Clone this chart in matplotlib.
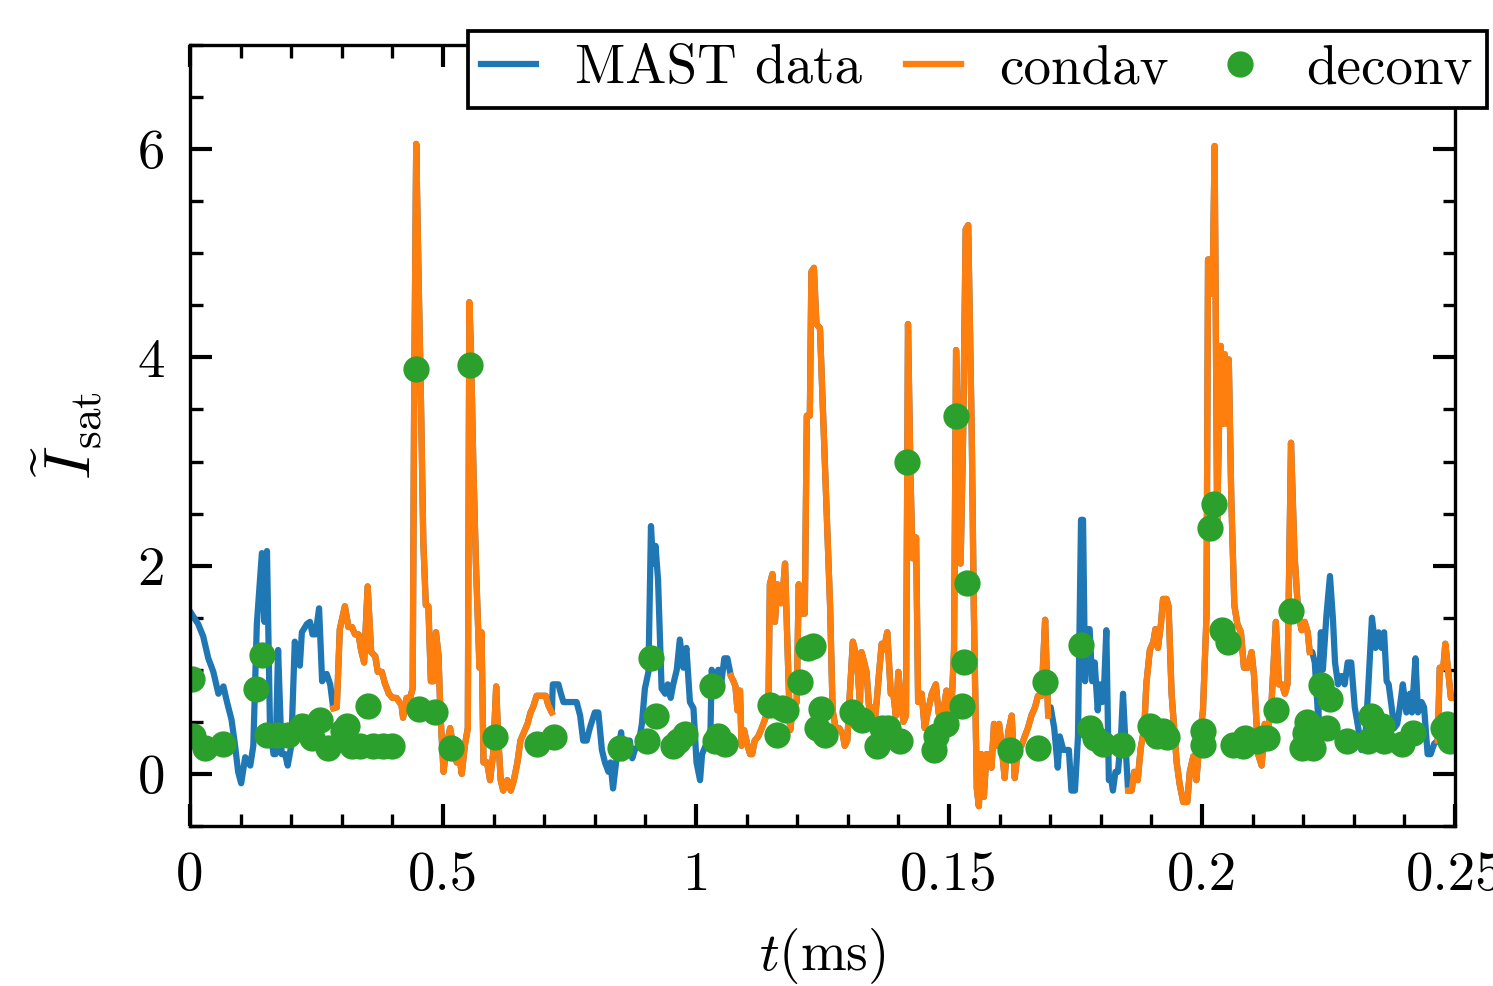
import numpy as np
import matplotlib
matplotlib.use("Agg")
import matplotlib.pyplot as plt

plt.rcParams['font.family'] = 'cmr10'
plt.rcParams['mathtext.fontset'] = 'cm'
plt.rcParams['axes.unicode_minus'] = False
plt.rcParams['font.size'] = 13.2

# time in microseconds, normalised ion saturation current
t_us = [0.0, 1.6, 2.6, 3.6, 4.6, 5.6, 6.6, 7.3, 8.2, 8.9, 9.5, 10.1, 10.9, 11.9, 12.5,
        13.2, 14.2, 14.7, 15.2, 15.8, 16.5, 16.9, 17.4, 18.1, 18.8, 19.3, 20.0, 20.7,
        21.7, 22.1, 23.1, 23.7, 24.2, 24.8, 25.5, 26.1, 27.0, 27.7, 28.3,
        29.0, 29.6, 30.6, 31.3, 32.0, 32.6, 33.3, 33.8, 34.4, 35.1, 35.8, 36.6, 37.1,
        37.9, 38.5, 39.3, 40.0, 40.8, 41.8, 42.1, 42.8, 43.5, 44.0, 44.3, 44.7, 45.1,
        45.6, 46.1, 46.6, 47.1, 47.6, 48.1, 48.6, 49.1, 49.5, 50.1, 50.7, 51.4, 52.0,
        52.7, 53.2, 53.7, 54.3, 54.9, 55.2, 55.5, 56.0, 56.5, 57.2, 57.6, 58.0, 58.7,
        59.3, 59.9, 60.5, 60.9, 61.4, 61.9, 62.7, 63.4, 64.0, 64.7, 65.3, 66.0, 66.7,
        67.3, 67.8, 68.5, 69.5, 70.3, 70.8, 71.5,
        71.7, 72.8, 73.3, 73.8, 75.4, 76.4, 77.1, 77.7, 78.4, 78.9, 79.4, 80.0, 80.7,
        81.4, 82.0, 82.7, 83.1, 83.6, 84.2, 84.5, 85.2, 85.6, 86.3, 86.9, 87.4, 87.9,
        88.6, 89.3, 89.9, 90.6, 91.1, 91.5, 92.0, 92.5, 93.2, 93.9, 94.4, 95.0, 95.5,
        96.2, 96.8, 97.5, 98.1, 98.8, 99.5, 100.1, 100.8, 101.2, 101.9, 102.8, 103.1,
        103.7, 104.4, 104.9, 105.6, 106.2, 106.9,
        107.4, 107.8, 108.2, 108.7, 109.0, 109.5, 110.2, 110.7, 111.1, 111.6, 112.3,
        113.0, 113.6, 114.3, 114.6, 115.1, 115.6, 116.1, 116.6, 117.0, 117.6, 118.1,
        118.6, 119.2, 119.9, 120.3, 120.9, 121.5, 121.9, 122.5, 122.8, 123.3, 123.8,
        124.5, 125.1, 125.8, 126.5, 127.0, 127.6, 128.3, 129.0, 129.4, 129.9, 130.4,
        131.0, 131.4, 131.9, 132.4, 132.7, 133.2, 133.7, 134.2, 134.7, 135.2, 135.7,
        136.2, 136.7, 137.1, 137.8, 138.5, 139.0, 139.5, 140.0, 140.4, 141.0, 141.5,
        141.9, 142.4, 142.8, 143.5, 143.9, 144.6, 145.2, 145.9, 146.6, 147.4, 147.9,
        148.5, 149.0, 149.5, 150.0, 150.5, 151.0, 151.4, 151.8, 152.3, 152.8, 153.3,
        153.8, 154.5, 154.9, 155.5, 155.9, 156.4, 156.9, 157.4, 157.9, 158.4, 158.9,
        159.4, 159.9, 160.4, 161.0, 161.7, 162.4, 163.0, 163.7, 164.3, 165.0, 165.6,
        166.3, 167.0, 167.6, 168.3, 169.0, 169.6,
        170.1, 170.8, 171.5, 171.9, 172.6, 173.7, 174.2, 174.9, 175.5, 176.1, 176.5,
        176.9, 177.4, 177.8, 178.3, 178.8, 179.4, 179.8, 180.3, 180.7, 181.1, 181.6,
        182.1, 182.4, 182.9, 183.4, 184.0, 184.4, 184.9, 185.4,
        186.1, 186.6, 187.3, 187.9, 188.6, 189.0, 189.7, 190.4, 190.8, 191.3, 191.9,
        192.3, 193.0, 193.4, 194.0, 194.5, 195.0, 195.6, 196.3, 197.1, 197.6, 198.3,
        198.9, 199.6, 200.2, 200.9, 201.2, 201.7, 202.1, 202.5, 203.0, 203.7, 204.1,
        204.5, 205.0, 205.3, 205.8, 206.4, 207.0, 207.7, 208.3, 209.1, 209.8, 210.3,
        211.1, 211.8, 212.4, 213.1, 213.7, 214.6, 215.2, 215.8, 216.4, 216.9, 217.6,
        218.3, 219.0, 219.7, 220.3, 220.9, 221.3,
        221.8, 222.3, 223.0, 223.5, 223.9, 224.6, 225.3, 225.9, 226.3, 226.9, 227.6,
        228.2, 228.8, 229.5, 230.2, 230.9, 231.5, 232.2, 232.8, 233.6, 234.3, 234.9,
        235.5, 236.0, 236.5, 236.9, 237.5, 238.0, 238.6, 239.1, 239.7, 240.4, 241.1,
        241.5, 242.2, 242.7, 243.4, 243.9, 244.6, 245.2, 245.9, 246.6,
        247.0, 247.7, 248.1, 248.6, 249.2, 250.0]

isat = [1.56, 1.44, 1.32, 1.11, 0.98, 0.77, 0.84, 0.69, 0.52, 0.27, 0.02, -0.09, 0.16, 0.08, 0.27,
        1.44, 2.12, 1.46, 2.14, 0.44, 0.19, 0.19, 1.19, 0.19, 0.19, 0.08, 0.27, 1.27,
        1.04, 1.36, 1.44, 1.46, 1.34, 1.34, 1.59, 0.89, 0.96, 0.86, 0.63,
        0.64, 1.39, 1.61, 1.41, 1.41, 1.34, 1.34, 1.19, 1.07, 1.80, 1.17, 1.13, 0.98,
        0.98, 0.87, 0.77, 0.73, 0.73, 0.66, 0.54, 0.73, 0.73, 0.82, 3.69, 6.05, 4.94,
        3.69, 2.23, 1.62, 1.61, 0.89, 0.89, 1.36, 1.14, 0.56, 0.02, 0.27, 0.44, 0.27,
        0.11, 0.19, 0.00, 0.27, 0.44, 4.53, 4.11, 2.94, 2.02, 1.02, 1.36, 0.11, 0.11,
        -0.06, 0.19, 0.84, 0.36, -0.06, -0.16, -0.06, -0.16, -0.06, 0.11, 0.32, 0.40, 0.48,
        0.59, 0.64, 0.75, 0.75, 0.75, 0.66, 0.59,
        0.86, 0.86, 0.77, 0.69, 0.69, 0.69, 0.56, 0.32, 0.32, 0.42, 0.50, 0.59, 0.59,
        0.23, 0.11, 0.02, 0.11, -0.14, 0.11, 0.19, 0.40, 0.15, 0.32, 0.32, 0.15, 0.23,
        0.27, 0.48, 0.82, 0.98, 2.38, 2.02, 2.19, 1.86, 0.82, 0.77, 0.86, 0.73, 0.86,
        1.00, 1.29, 1.02, 1.21, 0.69, 0.63, 0.11, -0.06, 0.19, 0.27, 0.27, 1.00,
        0.89, 1.00, 0.84, 1.11, 1.11, 0.94,
        0.89, 0.84, 0.61, 0.80, 0.27, 0.42, 0.27, 0.19, 0.19, 0.32, 0.36,
        0.44, 0.52, 0.61, 1.82, 1.92, 1.46, 1.82, 1.64, 1.64, 2.02, 1.19,
        0.42, 0.64, 0.69, 1.82, 1.54, 1.54, 3.44, 3.44, 4.82, 4.86, 4.32,
        4.28, 3.48, 2.52, 1.61, 0.61, 0.44, 0.44, 0.38, 0.27, 0.32, 0.77,
        1.27, 1.19, 1.02, 0.69, 1.17, 1.08, 0.98, 0.64, 0.64, 0.44, 0.69,
        0.98, 1.25, 1.19, 1.36, 0.77, 0.77, 0.56, 0.98, 0.77, 0.50, 0.56,
        4.32, 2.85, 2.07, 2.27, 0.69, 0.77, 0.44, 0.61, 0.77, 0.86, 0.61,
        0.42, 0.64, 0.80, 0.44, 0.64, 1.19, 4.07, 3.27, 2.02, 3.27, 5.23,
        5.27, 3.27, 1.61, -0.14, -0.31, 0.19, -0.22, 0.19, 0.19, 0.06, 0.48,
        0.27, 0.48, 0.27, -0.04, 0.40, 0.56, -0.04, 0.27, 0.27, 0.36, 0.44,
        0.56, 0.64, 0.75, 0.75, 1.48, 0.56,
        0.64, 0.44, 0.06, 0.36, 0.23, 0.23, -0.16, -0.16, 0.36, 2.44, 2.44,
        0.89, 1.39, 1.39, 0.89, 1.07, 0.61, 0.86, 0.69, 0.89, 1.38, -0.06,
        -0.06, -0.16, 0.02, 0.02, 0.36, 0.77, 0.27, -0.16,
        -0.16, 0.02, -0.06, 0.25, 0.44, 0.86, 1.19, 1.27, 1.39, 1.21, 1.44,
        1.68, 1.68, 1.61, 0.77, 0.44, 0.11, -0.10, -0.27, -0.27, 0.02, 0.17,
        -0.06, 0.36, 0.61, 1.52, 4.94, 4.94, 4.61, 6.03, 2.44, 4.11, 3.36,
        4.03, 3.36, 3.98, 2.64, 1.62, 1.44, 1.36, 1.02, 1.02, 1.17, 0.94,
        0.19, 0.08, 0.48, 0.44, 0.64, 1.46, 0.86, 0.86, 0.77, 0.86, 3.18,
        2.10, 1.56, 1.38, 1.46, 1.36, 1.17,
        1.17, 1.07, 0.52, 1.36, 1.00, 1.52, 1.90, 1.48, 1.07, 0.86, 0.94,
        0.86, 1.07, 1.07, 0.64, 0.44, 0.23, 0.27, 0.77, 1.50, 1.21, 1.36,
        1.21, 1.36, 0.89, 0.86, 0.64, 0.44, 0.48, 0.64, 0.86, 0.59, 0.77,
        0.59, 1.11, 0.59, 0.69, 0.64, 0.19, 0.19, 0.29, 0.32,
        1.02, 1.02, 1.25, 1.02, 0.73, 0.73]

# conditional-average windows (start, end) in microseconds
condav_start = [28.3, 106.9, 185.4, 246.6]
condav_end = [71.5, 169.6, 221.3, 250.0]

# deconvolution pulse estimates
deconv_t_us = [0.4, 0.6, 3.0, 6.5, 13.0, 14.2, 15.2, 17.2, 19.4, 22.1, 24.1, 25.7, 27.3,
               30.2, 31.0, 32.0, 33.6, 35.2, 36.2, 38.1, 39.9, 44.7, 45.3, 48.4, 51.6,
               55.3, 60.3, 68.6, 71.9, 85.0, 90.3, 91.1, 92.1, 95.4, 96.4, 97.8, 103.1,
               103.7, 104.3, 105.7, 114.6, 116.0, 117.0, 117.8, 120.5, 122.1, 123.1,
               123.9, 124.7, 125.5, 130.8, 132.8, 135.8, 136.7, 137.9, 140.3, 141.7,
               147.0, 147.4, 149.4, 151.4, 152.5, 152.9, 153.5, 162.0, 167.6, 169.0,
               176.1, 177.8, 178.8, 180.4, 184.2, 189.7, 191.1, 192.3, 193.1, 200.2,
               200.2, 201.6, 202.3, 203.9, 205.1, 206.1, 208.1, 208.5, 210.8, 212.0,
               212.8, 214.6, 217.6, 219.7, 220.3, 220.7, 221.9, 223.5, 225.3, 224.7,
               228.6, 232.8, 233.4, 235.5, 235.9, 239.5, 241.7, 247.6, 248.4, 249.0]
deconv_val = [0.91, 0.36, 0.25, 0.29, 0.82, 1.14, 0.37, 0.37, 0.37, 0.46, 0.34, 0.52, 0.25,
              0.41, 0.46, 0.27, 0.27, 0.65, 0.27, 0.27, 0.27, 3.89, 0.62, 0.59, 0.25,
              3.93, 0.35, 0.29, 0.35, 0.25, 0.32, 1.11, 0.56, 0.27, 0.32, 0.38, 0.84,
              0.32, 0.36, 0.29, 0.66, 0.37, 0.63, 0.61, 0.88, 1.21, 1.23,
              0.44, 0.62, 0.37, 0.59, 0.52, 0.27, 0.44, 0.44, 0.32, 3.00,
              0.23, 0.36, 0.48, 3.44, 0.65, 1.07, 1.83, 0.23, 0.25, 0.88,
              1.24, 0.44, 0.34, 0.29, 0.28, 0.46, 0.36, 0.41, 0.35, 0.41,
              0.28, 2.36, 2.59, 1.38, 1.27, 0.28, 0.27, 0.34, 0.32, 0.34,
              0.34, 0.61, 1.56, 0.25, 0.39, 0.50, 0.25, 0.85, 0.72, 0.44,
              0.32, 0.32, 0.56, 0.46, 0.32, 0.29, 0.39, 0.44, 0.48, 0.32]

xtick_pos = [0, 0.05, 0.1, 0.15, 0.2, 0.25]
xtick_labels = ['0', '0.5', '1', '0.15', '0.2', '0.25']
ytick_pos = [0, 2, 4, 6]

t = np.array(t_us) / 1000.0
y = np.array(isat)
mask = np.zeros(len(t), dtype=bool)
for s, e in zip(condav_start, condav_end):
    mask |= (np.array(t_us) >= s) & (np.array(t_us) <= e)
y_condav = np.where(mask, y, np.nan)

fig = plt.figure(figsize=(1493 / 300, 986 / 300), dpi=300)
ax = fig.add_axes([0.1273, 0.1623, 0.8472, 0.7921])

ax.plot(t, y, color='#1f77b4', lw=1.5, label='MAST data')
ax.plot(t, y_condav, color='#ff7f0e', lw=1.5, label='condav')
ax.plot(np.array(deconv_t_us) / 1000.0, deconv_val, 'o', color='#2ca02c', ms=5.3,
        label='deconv')

ax.set_xlim(0, 0.25)
ax.set_ylim(-0.5, 7)
ax.set_xticks(xtick_pos)
ax.set_xticklabels(xtick_labels)
ax.set_xticks(np.arange(0, 0.2501, 0.01), minor=True)
ax.set_yticks(ytick_pos)
ax.set_yticklabels([str(v) for v in ytick_pos])
ax.set_yticks(np.arange(-0.5, 7.01, 0.5), minor=True)
ax.tick_params(which='both', direction='in', top=True, right=True)
ax.tick_params(which='major', length=5.3, width=1.0)
ax.tick_params(which='minor', length=3.0, width=0.8)
ax.tick_params(axis='x', which='major', pad=6)
ax.tick_params(axis='y', which='major', pad=6)
for sp in ax.spines.values():
    sp.set_linewidth(0.8)

ax.set_xlabel(r'$t$(ms)', labelpad=6)
ax.set_ylabel(r'$\widetilde{I}_{\rm sat}$', fontsize=15.5, labelpad=8)

leg = ax.legend(loc='upper right', bbox_to_anchor=(1.025, 1.018), borderaxespad=0,
                ncol=3, handlelength=1.0, handletextpad=0.7, columnspacing=0.8,
                borderpad=0.25, fancybox=False, framealpha=1, edgecolor='black')
leg.get_frame().set_linewidth(0.9)

fig.savefig('out.png', dpi=300)
